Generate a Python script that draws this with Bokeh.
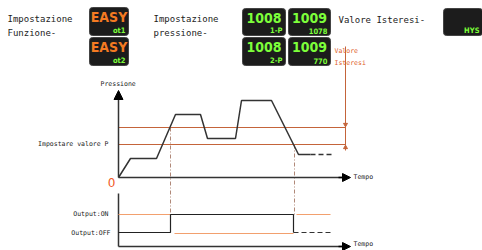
from bokeh.plotting import figure
from bokeh.models import Range1d, Arrow, NormalHead
from bokeh.core.properties import value
from bokeh.embed import file_html
from bokeh.resources import INLINE

# ---- diagram data (page pixel coordinates, y downwards) ----
# pressure curve
curve_t = [118, 130, 156, 175, 200, 207, 235, 241, 271, 298, 310]
curve_p = [177, 158, 158, 114, 114, 138, 138, 100, 100, 154, 154]
tail_t = [310, 331]
tail_p = [154, 154]
set_levels = [127, 144]          # upper / lower set lines
axis_origin = (118, 177)
axis_x_end = 350
axis_y_top = 90
# switching instants
switch_on_t = 170
switch_off_t = 294
# output signal
out_on_level = 214
out_off_level = 232
out_axis_y = 246
out_axis_top = 193
# panels
panels_l = [89, 89, 242, 288, 242, 288, 443]
panels_r = [128, 128, 285, 330, 285, 330, 482]
panels_t = [7, 37, 8, 8, 37, 37, 8]
panels_b = [35, 65, 35, 35, 65, 65, 35]
panel_big = ["EASY", "EASY", "1008", "1009", "1008", "1009", ""]
panel_small = ["ot1", "ot2", "1-P", "1078", "2-P", "770", "HYS"]
panel_big_col = ["#f47a22", "#f47a22", "#7dff3a", "#7dff3a", "#7dff3a", "#7dff3a", "#f47a22"]
small_col = "#7dff3a"

ORANGE = "#c4643a"
LORANGE = "#f2a06e"
DASHC = "#b08878"
MONO = value("DejaVu Sans Mono")

p = figure(width=482, height=250, x_range=Range1d(0, 482), y_range=Range1d(250, 0),
           output_backend="svg", toolbar_location=None, min_border=0)
p.axis.visible = False
p.grid.visible = False
p.outline_line_color = None

# ---- top panels ----
p.quad(left=panels_l, right=panels_r, top=panels_t, bottom=panels_b,
       fill_color="#1c1c1c", line_color="#444444", line_width=1, border_radius=3)
bx = [(l + r) / 2 for l, r in zip(panels_l, panels_r)]
by = [t + 9 for t in panels_t]
p.text(x=bx, y=by, text=panel_big, text_color=panel_big_col, text_font=value("DejaVu Sans Condensed"),
       text_font_style="bold", text_font_size="14px", text_align="center", text_baseline="middle")
sx = [min(r - 3, 479) for r in panels_r]
sy = [b - 5 for b in panels_b]
p.text(x=sx, y=sy, text=panel_small, text_color=small_col, text_font=value("DejaVu Sans Condensed"),
       text_font_style="bold", text_font_size="7.5px", text_align="right", text_baseline="middle")

head_labels = ["Impostazione", "Funzione-", "Impostazione", "pressione-", "Valore Isteresi-"]
head_x = [7, 7, 153, 153, 338]
head_y = [18, 32, 18, 32, 19]
p.text(x=head_x, y=head_y, text=head_labels, text_color="#222222", text_font=MONO,
       text_font_size="9px", text_baseline="middle")

# ---- pressure section ----
for lv in set_levels:
    p.line([axis_origin[0], 345], [lv, lv], line_color=ORANGE, line_width=1.2)
# hysteresis marker
p.line([345, 345], [46, 150], line_color=ORANGE, line_width=1)
p.scatter([345, 345], [124, 147], marker="triangle", angle=[3.1416, 0], size=4,
          fill_color=ORANGE, line_color=ORANGE)
p.text(x=[334, 334], y=[50, 62], text=["Valore", "Isteresi"], text_color="#e0602a",
       text_font=MONO, text_font_size="6.5px", text_baseline="middle")

# switching dash-dot lines
p.line([switch_on_t, switch_on_t], [set_levels[0], out_on_level], line_color=DASHC,
       line_width=1, line_dash="4 2 1 2")
p.line([switch_off_t, switch_off_t], [set_levels[1], out_on_level], line_color=DASHC,
       line_width=1, line_dash="4 2 1 2")

# curve
p.line(curve_t, curve_p, line_color="#333333", line_width=1.5)
p.line(tail_t, tail_p, line_color="#333333", line_width=1.5, line_dash="5 3")

# axes
p.line([axis_origin[0], axis_origin[0]], [axis_origin[1], axis_y_top + 4], line_color="#333333", line_width=1.5)
p.add_layout(Arrow(end=NormalHead(size=9, fill_color="black", line_color="black"),
                   x_start=axis_origin[0], y_start=axis_y_top + 8, x_end=axis_origin[0], y_end=axis_y_top,
                   line_color="black", line_width=1.5))
p.line([axis_origin[0], axis_x_end - 6], [axis_origin[1], axis_origin[1]], line_color="#333333", line_width=1.5)
p.add_layout(Arrow(end=NormalHead(size=8, fill_color="black", line_color="black"),
                   x_start=axis_x_end - 12, y_start=axis_origin[1], x_end=axis_x_end, y_end=axis_origin[1],
                   line_color="black", line_width=1.5))
p.text(x=[100], y=[83], text=["Pressione"], text_color="#222222", text_font=MONO,
       text_font_size="6.5px", text_baseline="middle")
p.text(x=[353], y=[176], text=["Tempo"], text_color="#222222", text_font=MONO,
       text_font_size="6.5px", text_baseline="middle")
p.text(x=[108], y=[143], text=["Impostare valore P"], text_color="#222222", text_font=MONO,
       text_font_size="6.5px", text_align="right", text_baseline="middle")
p.text(x=[111], y=[182], text=["0"], text_color="#f05a28", text_font=value("DejaVu Sans"),
       text_font_size="12px", text_align="center", text_baseline="middle")

# ---- output section ----
p.line([axis_origin[0], axis_origin[0]], [out_axis_top, out_axis_y], line_color="#333333", line_width=1.5)
p.line([axis_origin[0], axis_x_end - 6], [out_axis_y, out_axis_y], line_color="#333333", line_width=1.5)
p.add_layout(Arrow(end=NormalHead(size=8, fill_color="black", line_color="black"),
                   x_start=axis_x_end - 12, y_start=out_axis_y, x_end=axis_x_end, y_end=out_axis_y,
                   line_color="black", line_width=1.5))
p.text(x=[353], y=[243], text=["Tempo"], text_color="#222222", text_font=MONO,
       text_font_size="6.5px", text_baseline="middle")
p.text(x=[108, 110], y=[out_on_level - 1, out_off_level], text=["Output:ON", "Output:OFF"],
       text_color="#222222", text_font=MONO, text_font_size="6.5px", text_align="right",
       text_baseline="middle")

# orange reference levels
p.line([axis_origin[0], switch_on_t], [out_on_level, out_on_level], line_color=LORANGE, line_width=1.2)
p.line([switch_off_t + 2, 330], [out_on_level, out_on_level], line_color=LORANGE, line_width=1.2)
p.line([switch_on_t + 4, switch_off_t - 1], [out_off_level + 1, out_off_level + 1], line_color=LORANGE, line_width=1.2)

# black output signal
p.line([axis_origin[0], switch_on_t, switch_on_t, switch_off_t - 1, switch_off_t - 1],
       [out_off_level, out_off_level, out_on_level, out_on_level, out_off_level],
       line_color="#222222", line_width=1.2)
p.line([switch_off_t - 1, 331], [out_off_level, out_off_level], line_color="#333333",
       line_width=1.2, line_dash="5 3")

open("out.html", "w").write(file_html(p, INLINE))
